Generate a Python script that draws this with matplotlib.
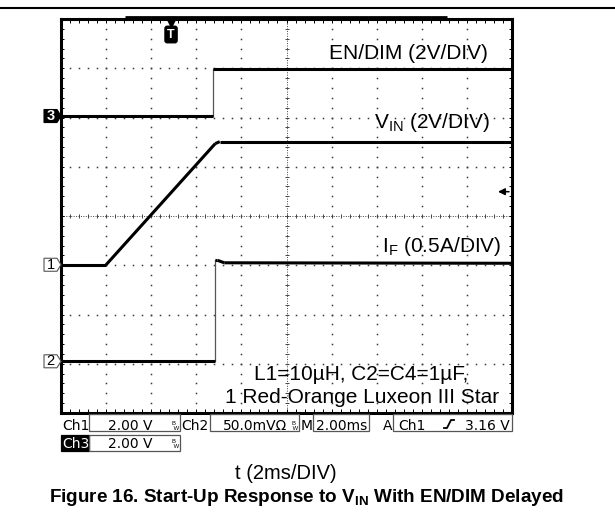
import numpy as np
import matplotlib
matplotlib.use('Agg')
import matplotlib.pyplot as plt
from matplotlib.patches import Polygon, Rectangle
from matplotlib.lines import Line2D

plt.rcParams['font.family'] = ['Liberation Sans', 'DejaVu Sans']
plt.rcParams['mathtext.fontset'] = 'custom'
plt.rcParams['mathtext.rm'] = 'Liberation Sans'
plt.rcParams['mathtext.bf'] = 'Liberation Sans:bold'

W, H = 615, 531

# traces, in scope divisions (x: 0..10, y: 0..8)
en_t = [0.0, 3.38, 3.38, 10.0]
en_v = [6.03, 6.03, 6.99, 6.99]
vin_t = [0.0, 1.0, 3.42, 3.52, 10.0]
vin_v = [3.01, 3.01, 5.47, 5.51, 5.51]
if_t = [0.0, 3.42, 3.42, 3.47, 3.62, 10.0]
if_v = [1.06, 1.06, 3.10, 3.10, 3.05, 3.04]

trace_labels = ['EN/DIM (2V/DIV)', 'V$_\\mathregular{IN}$ (2V/DIV)', 'I$_\\mathregular{F}$ (0.5A/DIV)']
note_lines = ['L1=10µH, C2=C4=1µF,', '1 Red-Orange Luxeon III Star']
ch_markers = [('3', 6.03, True), ('1', 3.01, False), ('2', 1.05, False)]
trig_pos = 2.44
x_label = 't (2ms/DIV)'
caption = 'Figure 16. Start-Up Response to V$_\\mathregular{IN}$ With EN/DIM Delayed'

# frame in pixels
FL, FR, FT, FB = 61, 512, 19, 413
PXX = (FR - FL) / 10.0
PXY = (FB - FT) / 8.0


def dx(px):
    return (px - FL) / PXX


def dy(py):
    return (FB - py) / PXY


def fx(px):
    return px / W


def fy(py):
    return 1 - py / H


def draw_trace(ax, t, v):
    for i in range(len(t) - 1):
        if t[i] == t[i + 1]:
            ax.plot(t[i:i + 2], v[i:i + 2], color='#555555', lw=0.9, zorder=4)
        else:
            ax.plot(t[i:i + 2], v[i:i + 2], color='k', lw=2.2,
                    solid_capstyle='butt', zorder=5)


def ch_marker(ax, label, level, filled):
    h = 6.5 / PXY
    pts = [(dx(44), level - h), (dx(57), level - h), (dx(61), level),
           (dx(57), level + h), (dx(44), level + h)]
    ax.add_patch(Polygon(pts, closed=True, fc='k' if filled else 'white',
                         ec='k' if filled else '#555555', lw=0.8, clip_on=False, zorder=6))
    ax.text(dx(50.5), level, label, ha='center', va='center', fontsize=10.5,
            color='white' if filled else 'k', weight='bold' if filled else 'normal',
            zorder=7)


def box(fig, x0, y0, x1, y1, fc='none', ec='#555555'):
    fig.add_artist(Rectangle((fx(x0), fy(y1)), fx(x1) - fx(x0), fy(y0) - fy(y1),
                             transform=fig.transFigure, fc=fc, ec=ec, lw=0.9))


def bw(fig, x, base):
    fig.text(fx(x), fy(base), 'B\n W', fontsize=4.2, ha='left', va='baseline',
             linespacing=0.9)


fig = plt.figure(figsize=(W / 100, H / 100), dpi=100)
ax = fig.add_axes([fx(FL), fy(FB), (FR - FL) / W, (FB - FT) / H])
ax.set_xlim(0, 10)
ax.set_ylim(0, 8)
ax.set_xticks([])
ax.set_yticks([])
for s in ax.spines.values():
    s.set_linewidth(2.2)

# dotted graticule
fine_x = np.arange(0, 10.001, 0.2)
fine_y = np.arange(0, 8.001, 0.2)
for gx in range(1, 10):
    if gx != 5:
        ax.plot([gx] * len(fine_y), fine_y, ls='none', marker='s', ms=1.1,
                color='#3a3a3a', mew=0)
for gy in range(1, 8):
    if gy != 4:
        ax.plot(fine_x, [gy] * len(fine_x), ls='none', marker='s', ms=1.1,
                color='#3a3a3a', mew=0)

# centre cross with tick marks
ax.axvline(5, color='#444444', lw=0.7, ls=(0, (1, 1.5)))
ax.axhline(4, color='#444444', lw=0.7, ls=(0, (1, 1.5)))
tl_x = 2.0 / PXX
tl_y = 2.0 / PXY
ax.vlines(fine_x, 4 - tl_y, 4 + tl_y, color='#444444', lw=0.7)
ax.hlines(fine_y, 5 - tl_x, 5 + tl_x, color='#444444', lw=0.7)

# ticks along the frame
ax.vlines(fine_x, 8 - 4 / PXY, 8, color='k', lw=0.7)
ax.vlines(fine_x, 0, 4 / PXY, color='k', lw=0.7)
ax.hlines(fine_y, 0, 3 / PXX, color='k', lw=0.7)
ax.hlines(fine_y, 10 - 3 / PXX, 10, color='k', lw=0.7)

# record window bar on top
ax.plot([dx(125), dx(447)], [8 + 2.5 / PXY] * 2, color='k', lw=2.0,
        clip_on=False, solid_capstyle='butt')

draw_trace(ax, en_t, en_v)
draw_trace(ax, vin_t, vin_v)
draw_trace(ax, if_t, if_v)

for lab, lev, filled in ch_markers:
    ch_marker(ax, lab, lev, filled)

# trigger marker
ax.plot(trig_pos, dy(22), marker='v', ms=7.5, color='k', clip_on=False, zorder=6)
ax.text(trig_pos, dy(34.5), 'T', ha='center', va='center', color='white',
        fontsize=9, weight='bold', zorder=7,
        bbox=dict(boxstyle='round,pad=0.18', fc='k', ec='k'))

# trigger level arrow
ax.annotate('', xy=(dx(498), dy(191.7)), xytext=(dx(509), dy(191.7)),
            arrowprops=dict(arrowstyle='-|>,head_length=0.4,head_width=0.2',
                            color='k', lw=1.1, shrinkA=0, shrinkB=0))

lfs = 15
ax.text(dx(488), dy(59), trace_labels[0], ha='right', va='baseline', fontsize=lfs)
ax.text(dx(490), dy(128), trace_labels[1], ha='right', va='baseline', fontsize=lfs)
ax.text(dx(501), dy(252), trace_labels[2], ha='right', va='baseline', fontsize=lfs)
ax.text(dx(361), dy(380), note_lines[0], ha='center', va='baseline', fontsize=lfs)
ax.text(dx(362), dy(403), note_lines[1], ha='center', va='baseline', fontsize=lfs)

# top rule
fig.add_artist(Line2D([0, 1], [fy(8), fy(8)], transform=fig.transFigure,
                      color='k', lw=1.5))

# scope status bar
narrow = ['Liberation Sans Narrow', 'DejaVu Sans']
sfs = 10
r1, r2 = 430, 448
fig.text(fx(62), fy(r1), 'Ch1', family=narrow, fontsize=sfs, va='baseline')
box(fig, 89, 414, 180, 431)
fig.text(fx(107.5), fy(r1), '2.00 V', family=narrow, fontsize=sfs, va='baseline')
bw(fig, 172, r1)
fig.text(fx(181), fy(r1), 'Ch2', family=narrow, fontsize=sfs, va='baseline')
box(fig, 210, 414, 299, 431)
fig.text(fx(223), fy(r1), '50.0mVΩ', family=narrow, fontsize=sfs, va='baseline')
bw(fig, 291, r1)
fig.text(fx(300.5), fy(r1), 'M', family=narrow, fontsize=sfs, va='baseline')
box(fig, 313, 414, 369, 431)
fig.text(fx(316), fy(r1), '2.00ms', family=narrow, fontsize=sfs, va='baseline')
fig.text(fx(383), fy(r1), 'A', family=narrow, fontsize=sfs, va='baseline')
box(fig, 393, 414, 512, 431)
fig.text(fx(398), fy(r1), 'Ch1', family=narrow, fontsize=sfs, va='baseline')
fig.add_artist(Line2D([fx(444), fx(447), fx(451), fx(454)],
                      [fy(428), fy(428), fy(420), fy(420)],
                      transform=fig.transFigure, color='k', lw=1.3))
fig.text(fx(510), fy(r1), '3.16 V', family=narrow, fontsize=sfs, va='baseline', ha='right')

box(fig, 61, 435, 89, 451, fc='k', ec='k')
fig.text(fx(62), fy(r2), 'Ch3', family=narrow, fontsize=sfs, va='baseline', color='white')
box(fig, 89, 435, 180, 451)
fig.text(fx(107.5), fy(r2), '2.00 V', family=narrow, fontsize=sfs, va='baseline')
bw(fig, 172, r2)

fig.text(fx(286), fy(479), x_label, ha='center', va='baseline', fontsize=14.5)
fig.text(fx(306), fy(502), caption, ha='center', va='baseline', fontsize=13.6,
         weight='bold')

fig.savefig('out.png', dpi=100)
